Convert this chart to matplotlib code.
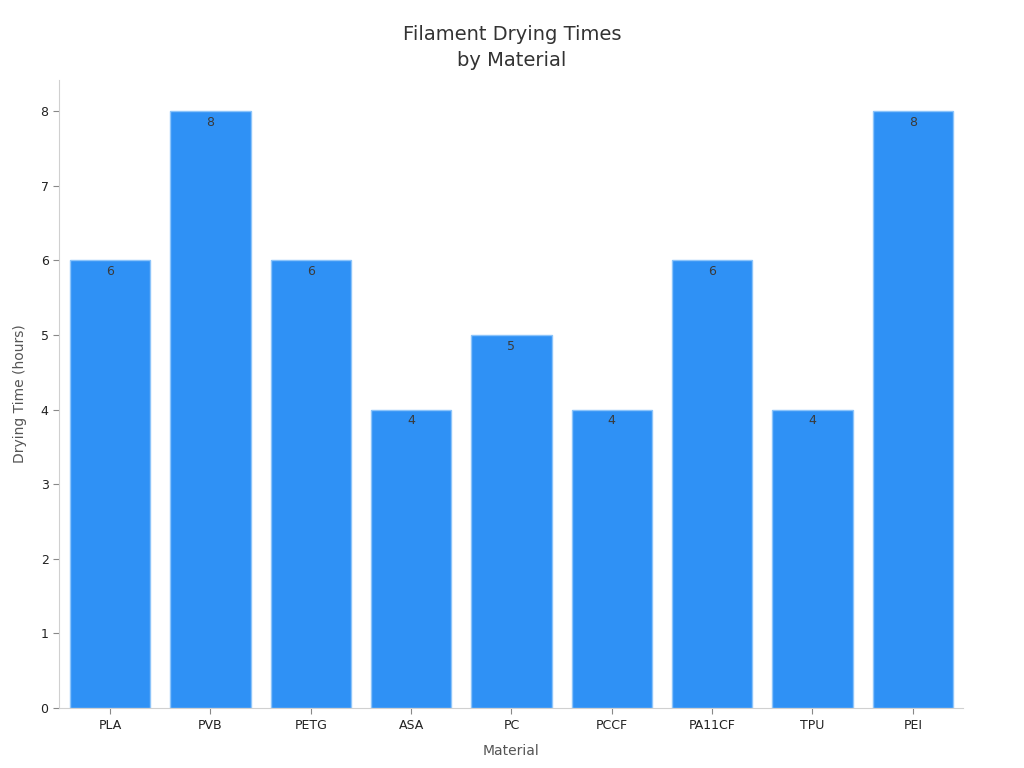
import matplotlib.pyplot as plt

materials = ['PLA', 'PVB', 'PETG', 'ASA', 'PC', 'PCCF', 'PA11CF', 'TPU', 'PEI']
hours = [6, 8, 6, 4, 5, 4, 6, 4, 8]

fig = plt.figure(figsize=(10.24, 7.68), dpi=100)
ax = fig.add_axes([0.0576, 0.078, 0.8828, 0.818])

bars = ax.bar(range(len(materials)), hours, width=0.8, color='#2f91f5',
              edgecolor='#8cc4fa', linewidth=1)

for b, v in zip(bars, hours):
    ax.text(b.get_x() + b.get_width() / 2, v - 0.06, str(v), ha='center', va='top',
            fontsize=9, color='#3a3a3a')

ax.set_xticks(range(len(materials)))
ax.set_xticklabels(materials)
ax.set_xlim(-0.51, 8.5)
ax.set_ylim(0, 8.42)
ax.set_yticks(range(0, 9))

ax.tick_params(axis='both', labelsize=9, colors='#222222', length=4)
ax.tick_params(axis='both', color='#888888')
for s in ['top', 'right']:
    ax.spines[s].set_visible(False)
for s in ['left', 'bottom']:
    ax.spines[s].set_color('#d0d0d0')

ax.set_xlabel('Material', fontsize=10, color='#555555', labelpad=9)
ax.set_ylabel('Drying Time (hours)', fontsize=10, color='#555555', labelpad=10)
fig.suptitle('Filament Drying Times\nby Material', fontsize=14, color='#333333',
             y=0.968, linespacing=1.5)

plt.savefig('out.png')
